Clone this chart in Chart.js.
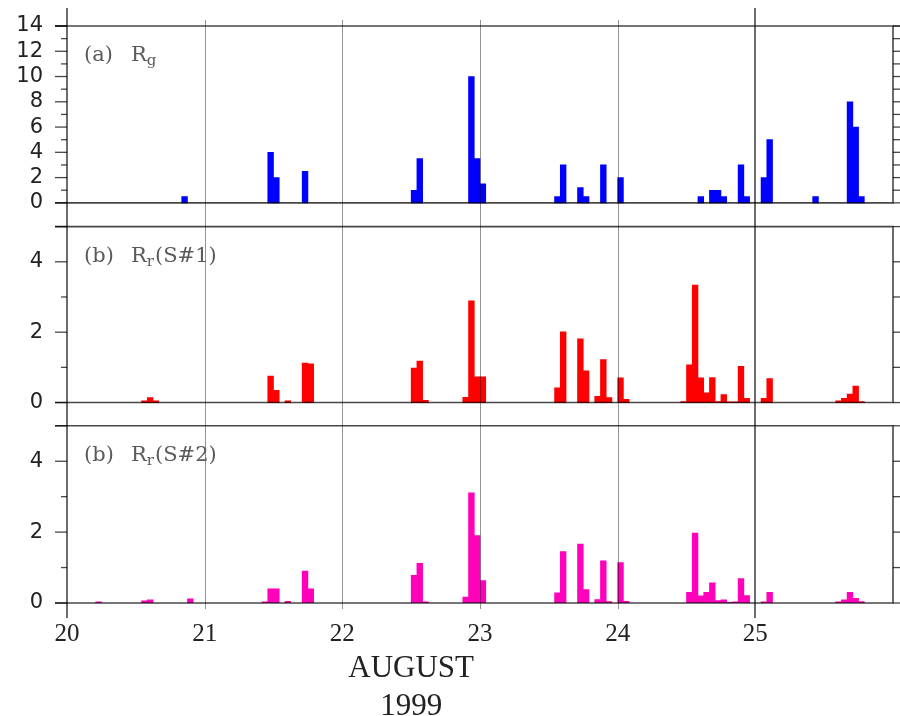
<!DOCTYPE html>
<html>
<head>
<meta charset="utf-8">
<title>Rg / Rr  August 1999</title>
<script src="https://cdn.jsdelivr.net/npm/chart.js@4/dist/chart.umd.min.js"></script>
<style>
  html, body { margin: 0; padding: 0; background: #fff; }
  #wrap { position: relative; width: 900px; height: 716px; }
</style>
</head>
<body>
<div id="wrap"><canvas id="c"></canvas></div>
<script>
// hourly totals, hour index counted from 00 UTC on 20 August
const DAY0 = 20;
const dayTicks = [20, 21, 22, 23, 24, 25];
const rgTicks = [0, 2, 4, 6, 8, 10, 12, 14];
const rrTicks = [0, 2, 4];

const rgHours = [20, 35, 36, 41, 60, 61, 70, 71, 72, 85, 86, 89, 90, 93, 96,
  110, 112, 113, 114, 117, 118, 121, 122, 130, 136, 137, 138];
const rgValues = [0.5, 4, 2, 2.5, 1, 3.5, 10, 3.5, 1.5, 0.5, 3, 1.2, 0.5, 3, 2,
  0.5, 1, 1, 0.5, 3, 0.5, 2, 5, 0.5, 8, 6, 0.5];

const rr1Hours = [13, 14, 15, 35, 36, 38, 41, 42, 60, 61, 62, 69, 70, 71, 72,
  85, 86, 89, 90, 92, 93, 94, 96, 97, 107, 108, 109, 110, 111, 112, 113, 114,
  115, 116, 117, 118, 121, 122, 134, 135, 136, 137, 138];
const rr1Values = [0.05, 0.14, 0.05, 0.75, 0.35, 0.05, 1.12, 1.1, 0.98, 1.18, 0.06,
  0.15, 2.89, 0.73, 0.73, 0.42, 2.01, 1.81, 0.9, 0.18, 1.22, 0.14, 0.7, 0.09,
  0.03, 1.07, 3.34, 0.7, 0.28, 0.71, 0.03, 0.23, 0.02, 0.02, 1.03, 0.12,
  0.12, 0.68, 0.05, 0.12, 0.24, 0.47, 0.03];

const rr2Hours = [5, 13, 14, 21, 34, 35, 36, 38, 41, 42, 60, 61, 62, 69, 70, 71, 72,
  85, 86, 89, 90, 92, 93, 94, 96, 97, 108, 109, 110, 111, 112, 113, 114, 115,
  116, 117, 118, 121, 122, 134, 135, 136, 137, 138];
const rr2Values = [0.03, 0.06, 0.09, 0.12, 0.03, 0.4, 0.4, 0.05, 0.9, 0.4, 0.78,
  1.12, 0.03, 0.17, 3.11, 1.9, 0.63, 0.29, 1.45, 1.66, 0.38, 0.1, 1.19, 0.04,
  1.14, 0.05, 0.3, 1.97, 0.2, 0.3, 0.57, 0.07, 0.09, 0.02, 0.03, 0.69, 0.21,
  0.03, 0.3, 0.03, 0.09, 0.3, 0.13, 0.04];

// bar centred in its hour
function toPoints(hours, values) {
  return hours.map((h, i) => ({ x: DAY0 + (h + 0.5) / 24, y: values[i] }));
}

const INK = 'rgba(0,0,0,0.72)';
const GRID = 'rgba(0,0,0,0.42)';

function bars(label, hours, values, color, axis) {
  return {
    label,
    data: toPoints(hours, values),
    yAxisID: axis,
    backgroundColor: color,
    borderWidth: 0,
    grouped: false,
    barPercentage: 1,
    categoryPercentage: 1,
  };
}

function yAxis(min, max, weight, ticks) {
  return {
    type: 'linear',
    position: 'left',
    stack: 'panels',
    stackWeight: weight,
    min, max,
    grid: { display: false, drawTicks: true, tickLength: 12 },
    border: { display: false },
    ticks: {
      padding: 12,
      autoSkip: false,
      color: '#222',
      font: { family: 'DejaVu Sans', size: 21 },
    },
    afterBuildTicks: s => { s.ticks = ticks.map(v => ({ value: v })); },
    afterFit: s => { s.width = 67; },
  };
}

// panel frames, tick marks, day lines and panel captions
const decor = {
  id: 'decor',
  afterDatasetsDraw(chart) {
    const ctx = chart.ctx;
    const x = chart.scales.x;
    const L = x.left, R = x.right;
    ctx.save();

    // day lines run through all panels
    ctx.strokeStyle = GRID;
    ctx.lineWidth = 1;
    [21, 22, 23, 24].forEach(d => {
      const px = Math.round(x.getPixelForValue(d)) + 0.5;
      ctx.beginPath(); ctx.moveTo(px, 20); ctx.lineTo(px, 609); ctx.stroke();
    });
    ctx.strokeStyle = INK;
    ctx.lineWidth = 1.6;
    [20, 25].forEach(d => {
      const px = Math.round(x.getPixelForValue(d));
      ctx.beginPath(); ctx.moveTo(px, 8); ctx.lineTo(px, 618); ctx.stroke();
    });

    const panels = [
      { id: 'y1', top: 14, minor: [1, 3, 5, 7, 9, 11, 13] },
      { id: 'y2', top: 5, minor: [1, 3] },
      { id: 'y3', top: 5, minor: [1, 3] },
    ];
    panels.forEach(p => {
      const s = chart.scales[p.id];
      const yt = s.getPixelForValue(p.top);
      const y0 = s.getPixelForValue(0);
      ctx.strokeStyle = INK;
      ctx.lineWidth = 1.6;
      ctx.beginPath();
      ctx.moveTo(L - 12, yt); ctx.lineTo(R, yt); ctx.lineTo(R, y0); ctx.lineTo(L - 12, y0);
      ctx.stroke();
      const major = s.ticks.map(t => t.value).concat([p.top]);
      ctx.lineWidth = 1.3;
      major.forEach(v => {
        const py = s.getPixelForValue(v);
        ctx.beginPath(); ctx.moveTo(L - 12, py); ctx.lineTo(L, py); ctx.stroke();
        ctx.beginPath(); ctx.moveTo(R, py); ctx.lineTo(R + 7, py); ctx.stroke();
      });
      p.minor.forEach(v => {
        const py = s.getPixelForValue(v);
        ctx.beginPath(); ctx.moveTo(L - 6, py); ctx.lineTo(L, py); ctx.stroke();
        ctx.beginPath(); ctx.moveTo(R, py); ctx.lineTo(R + 7, py); ctx.stroke();
      });
    });

    // captions
    const caps = [
      { id: 'y1', tag: '(a)', sub: 'g', rest: '' },
      { id: 'y2', tag: '(b)', sub: 'r', rest: '(S#1)' },
      { id: 'y3', tag: '(b)', sub: 'r', rest: '(S#2)' },
    ];
    ctx.fillStyle = '#5a5a5a';
    ctx.textBaseline = 'alphabetic';
    ctx.textAlign = 'left';
    caps.forEach(c => {
      const s = chart.scales[c.id];
      const base = s.getPixelForValue(c.id === 'y1' ? 14 : 5) + 35;
      ctx.font = '21px "DejaVu Serif"';
      ctx.fillText(c.tag, L + 17, base);
      let cx = L + 64;
      ctx.fillText('R', cx, base);
      cx += ctx.measureText('R').width;
      ctx.font = '15px "DejaVu Serif"';
      ctx.fillText(c.sub, cx, base + 4);
      cx += ctx.measureText(c.sub).width + 1;
      ctx.font = '21px "DejaVu Serif"';
      if (c.rest) ctx.fillText(c.rest, cx, base);
    });

    // month / year under the day labels
    ctx.fillStyle = '#222';
    ctx.textAlign = 'center';
    ctx.font = '31px "Liberation Serif"';
    const mx = x.getPixelForValue(22.5);
    ctx.fillText('AUGUST', mx, 677);
    ctx.fillText('1999', mx, 715);
    ctx.restore();
  },
};

new Chart(document.getElementById('c'), {
  type: 'bar',
  data: {
    datasets: [
      bars('Rr(S#2)', rr2Hours, rr2Values, '#ff00bb', 'y3'),
      bars('Rr(S#1)', rr1Hours, rr1Values, '#ff0000', 'y2'),
      bars('Rg', rgHours, rgValues, '#0000ff', 'y1'),
    ],
  },
  options: {
    responsive: true,
    maintainAspectRatio: false,
    animation: false,
    layout: { padding: { top: 26, right: 7, bottom: 63, left: 0 } },
    plugins: { legend: { display: false }, tooltip: { enabled: false } },
    scales: {
      x: {
        type: 'linear',
        min: 20, max: 26,
        offset: false,
        grid: { display: false, drawTicks: false },
        border: { display: false },
        ticks: {
          padding: 16,
          autoSkip: false,
          color: '#222',
          font: { family: 'Liberation Serif', size: 25 },
        },
        afterBuildTicks: s => { s.ticks = dayTicks.map(v => ({ value: v })); },
        afterFit: s => { s.height = 50; },
      },
      // defined bottom-up: later stacked axes are placed on top
      y3: yAxis(0, 5, 177.3, rrTicks),
      y2: yAxis(-0.66, 5, 199.3, rrTicks),
      y1: yAxis(-1.88, 14, 200.7, rgTicks),
    },
  },
  plugins: [decor],
});
</script>
</body>
</html>
